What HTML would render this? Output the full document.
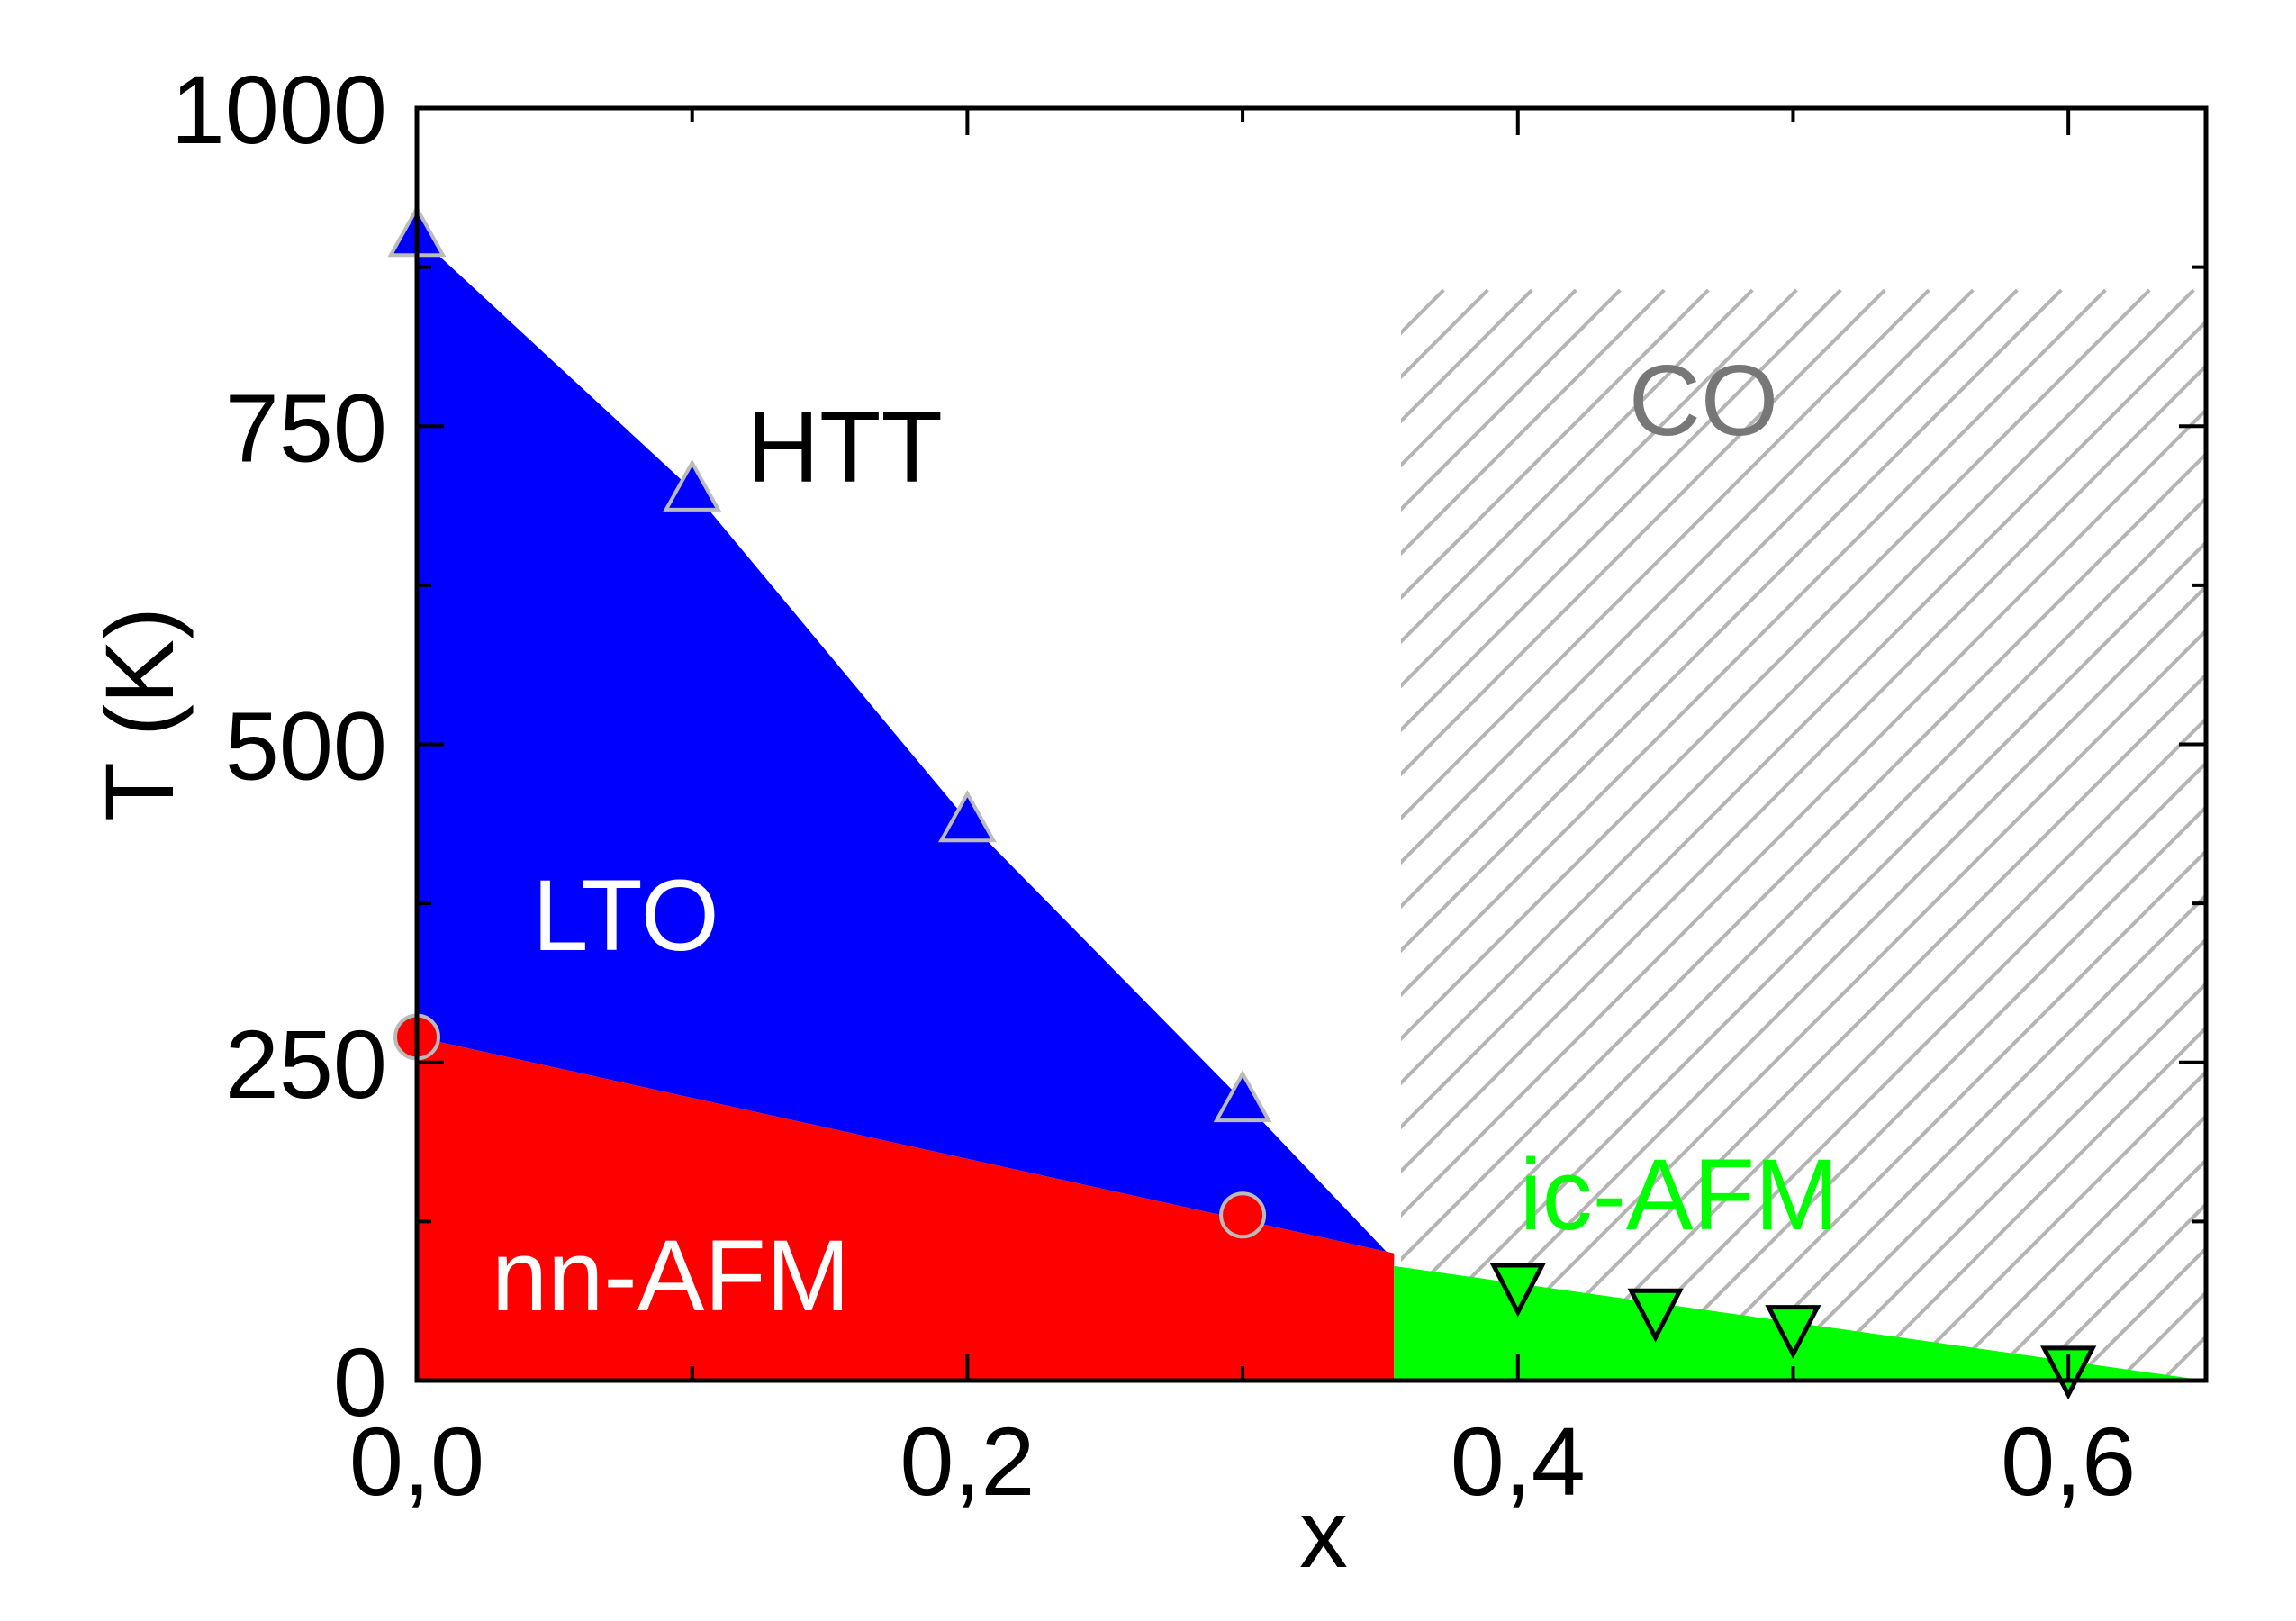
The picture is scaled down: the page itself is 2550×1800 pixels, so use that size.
<!DOCTYPE html>
<html><head><meta charset="utf-8"><style>
html,body{margin:0;padding:0;background:#fff;}
svg{display:block;font-family:"Liberation Sans",Arial,sans-serif;}
</style></head><body>
<svg id="chart" width="2550" height="1800" viewBox="0 0 2550 1800" xmlns="http://www.w3.org/2000/svg">
<defs>
<clipPath id="hclip"><rect x="1556" y="321" width="894" height="1212"/></clipPath>
</defs>
<g id="regions"></g>
<g id="marks"></g>
<g id="axes"></g>
</svg>
<script>
const xTicks=[0,0.2,0.4,0.6];
const xTickLabels=["0,0","0,2","0,4","0,6"];
const yTicks=[0,250,500,750,1000];
const yTickLabels=["0","250","500","750","1000"];
const httX=[0,0.1,0.2,0.3];
const httT=[900,700,440,220];
const nnX=[0,0.3];
const nnT=[270,130];
const icX=[0.4,0.45,0.5,0.6];
const icT=[75,55,42,10];
const triplePointX=[0.355];
const triplePointT=[95];
const nnBoundaryX=[0,0.355];
const nnBoundaryT=[270,100];
const icBoundaryX=[0.355,0.65];
const icBoundaryT=[90,0];
const coRangeX=[0.357,0.65];
const coRangeT=[0,857];

const NS="http://www.w3.org/2000/svg";
const L=463,R=2450,T=120,B=1533;
const sx=v=>L+v/0.65*(R-L);
const sy=v=>B-v/1000*(B-T);
function el(tag,attrs,parent){const e=document.createElementNS(NS,tag);for(const k in attrs)e.setAttribute(k,attrs[k]);parent.appendChild(e);return e;}
const reg=document.getElementById('regions'),mk=document.getElementById('marks'),ax=document.getElementById('axes');
const pts=a=>a.map(p=>sx(p[0])+','+sy(p[1])).join(' ');

const hg=el('g',{'clip-path':'url(#hclip)'},reg);


const hx0=sx(coRangeX[0]),hx1=sx(coRangeX[1]),hy0=sy(coRangeT[1]),hy1=sy(coRangeT[0]);
for(let x=hx0-(hy1-hy0);x<hx1+10;x+=49){
  const ln=el('line',{x1:x,y1:hy1,x2:x+(hy1-hy0),y2:hy0,stroke:'#b4b4b4','stroke-width':4},hg);
  
  
}
const bluePts=[[0,nnBoundaryT[0]]].concat(httX.map((x,i)=>[x,httT[i]]));
bluePts.push([triplePointX[0],triplePointT[0]]);
bluePts.push([nnBoundaryX[1],nnBoundaryT[1]]);
const blue=el('polygon',{points:pts(bluePts),fill:'#0000ff'},reg);


const red=el('polygon',{points:pts([[nnBoundaryX[0],nnBoundaryT[0]],[nnBoundaryX[1],nnBoundaryT[1]],[nnBoundaryX[1],0],[0,0]]),fill:'#ff0000'},reg);


const green=el('polygon',{points:pts([[icBoundaryX[0],icBoundaryT[0]],[icBoundaryX[1],icBoundaryT[1]],[icBoundaryX[0],0]]),fill:'#00ff00'},reg);



httX.forEach((x,i)=>{const cx=sx(x),cy=sy(httT[i]);
  const m=el('polygon',{points:`${cx},${cy-30} ${cx-29},${cy+22} ${cx+29},${cy+22}`,fill:'#0000ff',stroke:'#bbbbbb','stroke-width':4},mk);
  
  });
nnX.forEach((x,i)=>{
  const m=el('circle',{cx:sx(x),cy:sy(nnT[i]),r:24,fill:'#ff0000',stroke:'#bbbbbb','stroke-width':4},mk);
  
  });
icX.forEach((x,i)=>{const cx=sx(x),cy=sy(icT[i]);
  const m=el('polygon',{points:`${cx},${cy+30} ${cx-27},${cy-22} ${cx+27},${cy-22}`,fill:'#00ff00',stroke:'#000','stroke-width':5},mk);
  
  });

const fr=el('rect',{x:L,y:T,width:R-L,height:B-T,fill:'none',stroke:'#000','stroke-width':5},ax);


for(let v=0;v<=0.6001;v+=0.1){const x=sx(v),maj=Math.round(v*10)%2==0,len=maj?30:16;
  const t1=el('line',{x1:x,y1:B,x2:x,y2:B-len,stroke:'#000','stroke-width':4},ax);
  
  
  const t2=el('line',{x1:x,y1:T,x2:x,y2:T+len,stroke:'#000','stroke-width':4},ax);
  
  }
for(let v=0;v<=1000;v+=125){const y=sy(v),maj=v%250==0,len=maj?30:16;
  const t1=el('line',{x1:L,y1:y,x2:L+len,y2:y,stroke:'#000','stroke-width':4},ax);
  
  
  const t2=el('line',{x1:R,y1:y,x2:R-len,y2:y,stroke:'#000','stroke-width':4},ax);
  
  }
xTicks.forEach((v,i)=>{const t=el('text',{x:sx(v),y:1660,'font-size':108,'text-anchor':'middle',fill:'#000'},ax);t.textContent=xTickLabels[i];
  
  });
yTicks.forEach((v,i)=>{const t=el('text',{x:430,y:sy(v)+39,'font-size':108,'text-anchor':'end',fill:'#000'},ax);t.textContent=yTickLabels[i];
  
  });
function label(txt,x,y,size,color,name,rot){const a={x:x,y:y,'font-size':size,'text-anchor':'middle',fill:color};if(rot)a.transform=rot;
  const t=el('text',a,ax);t.textContent=txt;
  
  }
label('x',1470,1740,108,'#000','x-axis-title');
label('T (K)',192,793,108,'#000','y-axis-title','rotate(-90 192 793)');
label('HTT',938,535,112,'#000','htt-label');
label('LTO',695,1055,112,'#fff','lto-label');
label('nn-AFM',745,1455,112,'#fff','nn-afm-label');
label('ic-AFM',1865,1365,112,'#00ff00','ic-afm-label');
label('CO',1892,483,111,'#777777','co-label');
</script>
</body></html>
